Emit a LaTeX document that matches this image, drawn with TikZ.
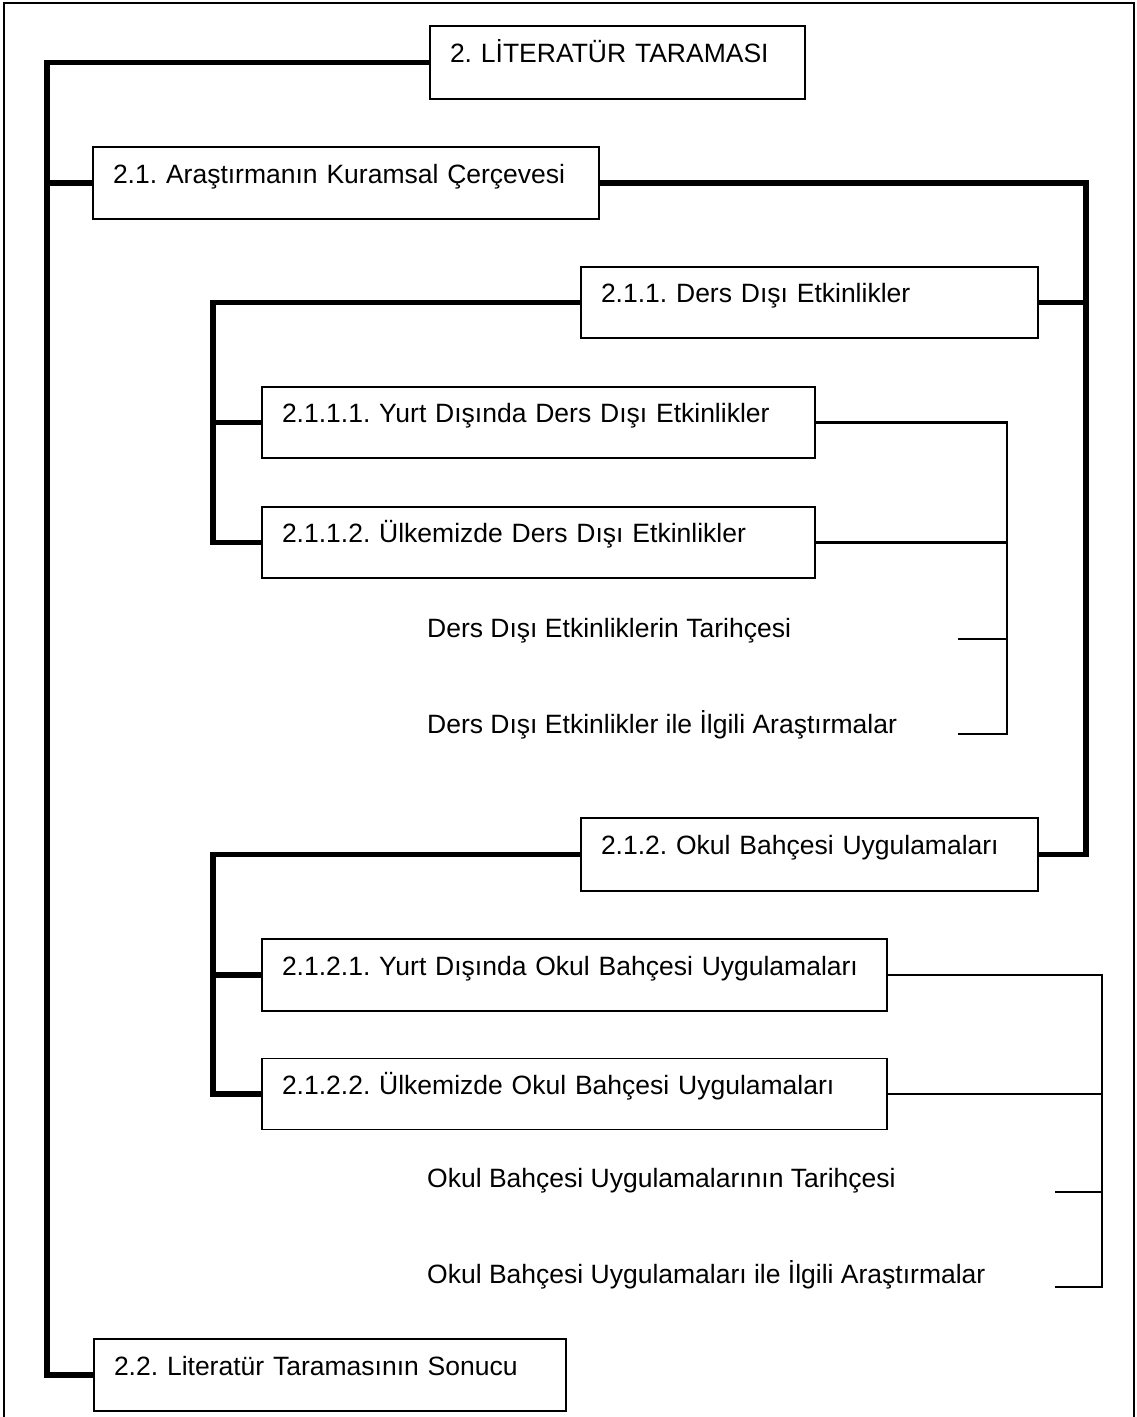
\documentclass[tikz,border=0pt]{standalone}
\usepackage{fontspec}
\setmainfont{Liberation Sans}
\frenchspacing
\begin{document}
\begin{tikzpicture}[x=1pt,y=-1pt,
  every node/.style={font=\fontsize{26.5}{32}\selectfont},
  box/.style={draw, line width=1.5pt, anchor=west, minimum height=72pt,
    inner xsep=20pt, inner ysep=0pt, outer sep=0pt,
    text height=12pt, text depth=12pt, align=left},
  free/.style={anchor=base west, inner sep=0pt},
  trunk/.style={line width=5.5pt, line join=miter},
  branch/.style={line width=2.5pt, line join=miter},
  frame/.style={line width=2pt}]

\useasboundingbox (0,0) rectangle (1136,1417);

% outer frame (open at the bottom)
\draw[frame] (4,1417) -- (4,3) -- (1134,3) -- (1134,1417);

% section boxes
\node[box, text width=335pt, minimum height=73pt] (lit)   at (430,62.5)  {2. LİTERATÜR TARAMASI};
\node[box, text width=466pt] (k21)   at (93,183)    {2.1. Araştırmanın Kuramsal Çerçevesi};
\node[box, text width=417pt, minimum height=71pt] (b211)  at (581,302.5) {2.1.1. Ders Dışı Etkinlikler};
\node[box, text width=513pt, minimum height=71pt] (b2111) at (262,422.5) {2.1.1.1. Yurt Dışında Ders Dışı Etkinlikler};
\node[box, text width=513pt, minimum height=71pt] (b2112) at (262,542.5) {2.1.1.2. Ülkemizde Ders Dışı Etkinlikler};
\node[box, text width=417pt, minimum height=73pt] (b212)  at (581,854.5) {2.1.2. Okul Bahçesi Uygulamaları};
\node[box, text width=585pt] (b2121) at (262,975)   {2.1.2.1. Yurt Dışında Okul Bahçesi Uygulamaları};
\node[box, text width=585pt, minimum height=71pt] (b2122) at (262,1094)  {2.1.2.2. Ülkemizde Okul Bahçesi Uygulamaları};
\node[box, text width=432pt] (b22)   at (94,1375)   {2.2. Literatür Taramasının Sonucu};

% unboxed headings
\node[free] (d1) at (427,637)  {Ders Dışı Etkinliklerin Tarihçesi};
\node[free] (d2) at (427,733)  {Ders Dışı Etkinlikler ile İlgili Araştırmalar};
\node[free] (o1) at (427,1187) {Okul Bahçesi Uygulamalarının Tarihçesi};
\node[free] (o2) at (427,1283) {Okul Bahçesi Uygulamaları ile İlgili Araştırmalar};

% spine positions and loose tick ends
\coordinate (L)   at (47,62.5);
\coordinate (R)   at (1086,183);
\coordinate (M1)  at (213,302.5);
\coordinate (M2)  at (213,854.5);
\coordinate (S1)  at (1007,422.5);
\coordinate (S2)  at (1102,975);
\coordinate (t11) at (958,639);
\coordinate (t12) at (958,734);
\coordinate (t21) at (1055,1192);
\coordinate (t22) at (1055,1287);

% main left spine
\draw[trunk] (lit.west) -- (L) |- (b22.west);
\draw[trunk] (L |- k21.west) -- (k21.west);

% right spine of 2.1
\draw[trunk] (k21.east) -- (R) |- (b212.east);
\draw[trunk] (b211.east) -- (R |- b211.east);

% children of 2.1.1
\draw[trunk] (b211.west) -- (M1) |- (b2112.west);
\draw[trunk] (M1 |- b2111.west) -- (b2111.west);

% children of 2.1.2
\draw[trunk] (b212.west) -- (M2) |- (b2122.west);
\draw[trunk] (M2 |- b2121.west) -- (b2121.west);

% thin right brackets
\draw[branch] (b2111.east) -- (S1) |- (t12);
\draw[branch] (b2112.east) -- (S1 |- b2112.east);
\draw[branch] (t11) -- (S1 |- t11);

\draw[branch] (b2121.east) -- (S2) |- (t22);
\draw[branch] (b2122.east) -- (S2 |- b2122.east);
\draw[branch] (t21) -- (S2 |- t21);
\end{tikzpicture}
\end{document}
